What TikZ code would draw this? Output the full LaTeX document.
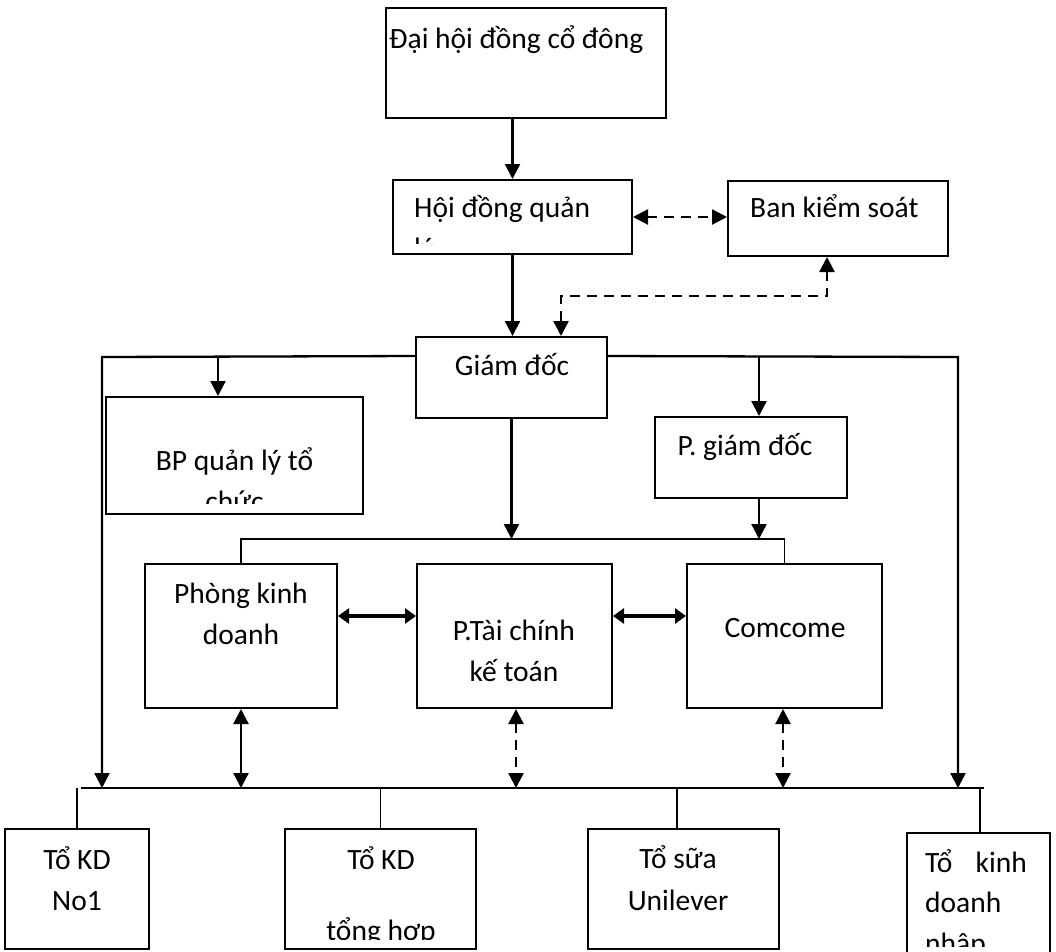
\documentclass[tikz,border=0pt]{standalone}
\usepackage{fontspec}
\setmainfont{Carlito}
\usetikzlibrary{arrows.meta}
\begin{document}
\begin{tikzpicture}[x=1pt,y=-1pt,
  box/.style={draw, line width=2pt, inner sep=0pt, rectangle},
  txt/.style={inner sep=0pt, font=\fontsize{29.5}{41}\selectfont},
  conn/.style={line width=1.4pt},
  arr/.style={line width=2.3pt, -{Triangle[width=15pt,length=15pt]}},
  dblarr/.style={line width=2.3pt, {Triangle[width=15pt,length=15pt]}-{Triangle[width=15pt,length=15pt]}},
  dasharr/.style={line width=2.3pt, dash pattern=on 10pt off 7pt, {Triangle[width=15pt,length=15pt]}-{Triangle[width=15pt,length=15pt]}},
  fatarr/.style={line width=3.8pt, {Triangle[width=15pt,length=11pt]}-{Triangle[width=15pt,length=11pt]}}
]
\useasboundingbox[fill=white] (0,0) rectangle (1056,951);

% boxes
\node[box, minimum width=280pt, minimum height=110pt] (dh) at (526,63) {};
\node[box, minimum width=239pt, minimum height=74pt] (hd) at (512.5,217) {};
\node[box, minimum width=220pt, minimum height=75pt] (bks) at (838,218.5) {};
\node[box, minimum width=191pt, minimum height=81pt] (gd) at (511.5,377.5) {};
\node[box, minimum width=257pt, minimum height=117pt] (bp) at (234.5,455.5) {};
\node[box, minimum width=192pt, minimum height=81pt] (pgd) at (751,457.5) {};
\node[box, minimum width=192pt, minimum height=144pt] (pkd) at (241,636) {};
\node[box, minimum width=195pt, minimum height=144pt] (ptc) at (514.5,636) {};
\node[box, minimum width=195pt, minimum height=144pt] (cc) at (784.5,636) {};
\node[box, minimum width=144pt, minimum height=120pt] (t1) at (77,889) {};
\node[box, minimum width=191pt, minimum height=120pt] (t2) at (380.5,889) {};
\node[box, minimum width=191pt, minimum height=120pt] (t3) at (683.5,889) {};
\node[box, minimum width=143pt, minimum height=132pt] (t4) at (978.5,899) {};

% texts
\node[txt, anchor=base west] (dht) at (389,48) {Đại hội đồng cổ đông};
\begin{scope}
  \clip (hd.north west) rectangle ([yshift=12pt]hd.south east);
  \node[txt, anchor=base west] (hdt1) at (414,217) {Hội đồng quản};
  \node[txt, anchor=base west] (hdt2) at (414,258) {lý};
\end{scope}
\node[txt, anchor=base west] (bkst) at (750,217) {Ban kiểm soát};
\node[txt, anchor=base] (gdt) at (512,375) {Giám đốc};
\begin{scope}
  \clip (bp.north west) rectangle ([yshift=12pt]bp.south east);
  \node[txt, anchor=base] (bpt1) at (234.5,470) {BP quản lý tổ};
  \node[txt, anchor=base] (bpt2) at (234.5,511) {chức};
\end{scope}
\node[txt, anchor=base] (pgdt) at (745,455) {P. giám đốc};
\node[txt, anchor=base] (pkdt1) at (241,603) {Phòng kinh};
\node[txt, anchor=base] (pkdt2) at (241,644) {doanh};
\node[txt, anchor=base] (ptct1) at (514,640) {P.Tài chính};
\node[txt, anchor=base] (ptct2) at (514,681) {kế toán};
\node[txt, anchor=base] (cct) at (785,637) {Comcome};
\node[txt, anchor=base] (t1a) at (77,869) {Tổ KD};
\node[txt, anchor=base] (t1b) at (77,910) {No1};
\begin{scope}
  \clip (t2.north west) rectangle ([yshift=11pt]t2.south east);
  \node[txt, anchor=base] (t2a) at (381,869) {Tổ KD};
  \node[txt, anchor=base] (t2b) at (381,940) {tổng hợp};
\end{scope}
\node[txt, anchor=base] (t3a) at (678,868) {Tổ sữa};
\node[txt, anchor=base] (t3b) at (678,910) {Unilever};
\begin{scope}
  \clip (t4.north west) rectangle ([yshift=20pt]t4.south east);
  \node[txt, anchor=base west] (t4a) at (925,872) {Tổ};
  \node[txt, anchor=base east] (t4b) at (1027,872) {kinh};
  \node[txt, anchor=base west] (t4c) at (925,912) {doanh};
  \node[txt, anchor=base west] (t4d) at (925,953) {nhập};
\end{scope}

% coordinates
\coordinate (gdL) at (102,357);
\coordinate (gdR) at (958,357);
\coordinate (bpTop) at (218,357);
\coordinate (pgdTop) at (759,357);
\coordinate (busM) at (0,539);
\coordinate (busL) at (81,788);
\coordinate (busR) at (984,788);
\coordinate (lvB) at (102,788);
\coordinate (rvB) at (958,788);

% connectors
\draw[arr] (hd.north |- dh.south) -- (hd.north);
\draw[arr] (hd.south) -- (hd.south |- gd.north);
\draw[dasharr] (hd.east) -- (hd.east -| bks.west);
\draw[dasharr] ([xshift=-11pt]bks.south) -- ++(0,39) -| ([xshift=49.5pt]gd.north);

\draw[arr] ([yshift=-20pt]gd.north west) -- (gdL) -- (lvB);
\draw[arr] ([yshift=-20pt]gd.north east) -- (gdR) -- (rvB);
\draw[arr] (bpTop) -- (bpTop |- bp.north);
\draw[arr] (pgdTop) -- (pgdTop |- pgd.north);

\draw[arr] (gd.south) -- (gd.south |- busM);
\draw[arr] (pgdTop |- pgd.south) -- (pgdTop |- busM);
\draw[conn] (pkd.north) |- (cc.north |- busM) -- (cc.north);

\draw[fatarr] (pkd.east |- 0,616) -- (ptc.west |- 0,616);
\draw[fatarr] (ptc.east |- 0,616) -- (cc.west |- 0,616);

\draw[dblarr] (pkd.south) -- (pkd.south |- busL);
\draw[dasharr] ([xshift=1.5pt]ptc.south) -- ([xshift=1.5pt]ptc.south |- busL);
\draw[dasharr] ([xshift=-1.5pt]cc.south) -- ([xshift=-1.5pt]cc.south |- busL);

\draw[conn] (busL) -- (busR);
\draw[conn] (t1.north |- busL) -- (t1.north);
\draw[conn] (t2.north |- busL) -- (t2.north);
\draw[conn] ([xshift=-6.5pt]t3.north |- busL) -- ([xshift=-6.5pt]t3.north);
\draw[conn] ([xshift=1.5pt]t4.north |- busL) -- ([xshift=1.5pt]t4.north);
\end{tikzpicture}
\end{document}
